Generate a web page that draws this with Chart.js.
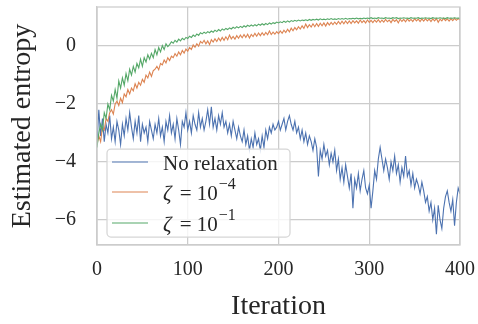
<!DOCTYPE html>
<html>
<head>
<meta charset="utf-8">
<script src="https://cdn.jsdelivr.net/npm/chart.js@4.4.0/dist/chart.umd.min.js"></script>
<style>
  html, body { margin: 0; padding: 0; background: #fff; }
  #wrap { width: 478px; height: 324px; }
</style>
</head>
<body>
<div id="wrap"><canvas id="entropyChart" width="478" height="324"></canvas></div>
<script>
// Iterations (every second step)
const iterations = [
  0,2,4,6,8,10,12,14,16,18,20,22,24,26,28,30,32,34,36,38,
  40,42,44,46,48,50,52,54,56,58,60,62,64,66,68,70,72,74,76,78,
  80,82,84,86,88,90,92,94,96,98,100,102,104,106,108,110,112,114,116,118,
  120,122,124,126,128,130,132,134,136,138,140,142,144,146,148,150,152,154,156,158,
  160,162,164,166,168,170,172,174,176,178,180,182,184,186,188,190,192,194,196,198,
  200,202,204,206,208,210,212,214,216,218,220,222,224,226,228,230,232,234,236,238,
  240,242,244,246,248,250,252,254,256,258,260,262,264,266,268,270,272,274,276,278,
  280,282,284,286,288,290,292,294,296,298,300,302,304,306,308,310,312,314,316,318,
  320,322,324,326,328,330,332,334,336,338,340,342,344,346,348,350,352,354,356,358,
  360,362,364,366,368,370,372,374,376,378,380,382,384,386,388,390,392,394,396,398,
  400
];

const noRelaxation = [
  -3.4,-2.2,-3.1,-2.5,-3.3,-2.7,-3.0,-2.4,-3.2,-2.8,
  -3.3,-2.6,-2.9,-3.4,-2.7,-3.1,-2.5,-2.9,-2.3,-2.8,
  -3.2,-2.6,-3.0,-2.4,-3.3,-2.7,-3.0,-2.8,-3.3,-2.6,
  -2.9,-3.2,-2.7,-3.0,-2.5,-3.1,-2.8,-3.3,-2.6,-2.9,
  -2.4,-3.0,-2.7,-3.2,-2.5,-2.9,-3.4,-2.6,-2.8,-2.3,
  -2.9,-2.6,-3.0,-2.4,-2.7,-2.9,-2.3,-2.8,-2.5,-2.9,
  -2.6,-2.2,-2.7,-2.1,-2.8,-2.5,-2.9,-2.4,-2.7,-2.3,
  -2.8,-2.6,-3.0,-2.7,-3.1,-2.6,-2.9,-3.2,-2.8,-3.1,
  -3.3,-2.9,-3.4,-3.1,-3.6,-3.2,-3.5,-3.0,-3.4,-3.2,
  -3.6,-3.1,-3.5,-2.9,-3.2,-2.8,-3.0,-2.7,-2.9,-2.8,
  -2.6,-2.9,-2.7,-2.5,-2.9,-2.6,-2.4,-2.7,-2.9,-2.6,
  -3.0,-2.8,-3.2,-2.9,-3.3,-3.0,-3.4,-3.1,-3.3,-3.6,
  -3.2,-3.5,-4.5,-3.6,-3.9,-3.4,-3.8,-3.6,-4.1,-3.7,
  -4.0,-3.6,-4.3,-3.9,-4.6,-4.2,-4.7,-4.1,-4.5,-4.9,
  -4.4,-5.6,-4.6,-4.9,-4.4,-5.0,-4.6,-4.3,-4.9,-5.1,
  -4.8,-5.6,-5.0,-4.3,-4.6,-3.9,-3.5,-3.9,-4.3,-3.9,
  -4.2,-4.6,-4.0,-4.3,-3.8,-4.4,-4.1,-4.7,-4.2,-4.5,
  -3.8,-4.5,-4.3,-4.8,-4.4,-4.9,-4.6,-4.8,-5.1,-4.7,
  -5.0,-5.4,-5.2,-5.7,-5.4,-6.0,-5.6,-6.5,-5.5,-6.0,
  -6.3,-5.6,-5.2,-5.0,-5.4,-5.7,-5.3,-6.2,-5.4,-4.9,
  -5.1
];

const zetaSmall = [
  -3.4,-3.1,-3.3,-2.8,-2.9,-2.5,-2.6,-2.3,-2.2,-2.35,
  -2.0,-1.9,-2.05,-1.8,-1.95,-1.65,-1.75,-1.5,-1.65,-1.45,
  -1.55,-1.3,-1.45,-1.25,-1.35,-1.15,-1.25,-1.0,-1.1,-0.9,
  -1.05,-0.85,-0.8,-0.7,-0.82,-0.6,-0.65,-0.48,-0.58,-0.4,
  -0.5,-0.35,-0.4,-0.26,-0.35,-0.2,-0.3,-0.15,-0.24,-0.1,
  -0.18,-0.05,-0.12,0.04,-0.04,0.08,0.0,0.16,0.1,0.2,
  0.08,0.18,0.05,0.22,0.14,0.25,0.16,0.28,0.18,0.3,
  0.2,0.32,0.22,0.38,0.25,0.33,0.24,0.36,0.27,0.38,
  0.29,0.4,0.3,0.41,0.28,0.4,0.33,0.44,0.34,0.45,
  0.36,0.46,0.37,0.47,0.39,0.52,0.4,0.48,0.41,0.5,
  0.43,0.52,0.44,0.55,0.47,0.58,0.49,0.62,0.53,0.64,
  0.56,0.67,0.59,0.7,0.61,0.76,0.64,0.74,0.66,0.77,
  0.67,0.78,0.68,0.79,0.7,0.8,0.69,0.81,0.73,0.82,
  0.74,0.83,0.75,0.85,0.76,0.86,0.77,0.87,0.78,0.87,
  0.78,0.88,0.8,0.87,0.79,0.9,0.81,0.88,0.8,0.9,
  0.82,0.89,0.81,0.9,0.83,0.91,0.82,0.9,0.83,0.92,
  0.84,0.9,0.81,0.92,0.85,0.91,0.8,0.93,0.85,0.92,
  0.84,0.94,0.86,0.92,0.85,0.95,0.87,0.93,0.85,0.94,
  0.86,0.95,0.87,0.93,0.85,0.94,0.87,0.95,0.82,0.93,
  0.87,0.96,0.88,0.94,0.86,0.95,0.88,0.96,0.89,0.95,
  0.91
];

const zetaLarge = [
  -3.5,-3.0,-2.7,-2.9,-2.3,-2.5,-2.0,-2.2,-1.7,-1.9,
  -1.5,-1.8,-1.2,-1.45,-1.1,-1.35,-0.95,-1.2,-0.8,-1.0,
  -0.7,-0.9,-0.6,-0.75,-0.45,-0.7,-0.4,-0.55,-0.3,-0.45,
  -0.25,-0.4,-0.12,-0.3,-0.05,-0.2,0.02,-0.12,0.08,-0.02,
  0.05,0.15,0.1,0.2,0.14,0.24,0.18,0.27,0.22,0.3,
  0.26,0.34,0.3,0.38,0.33,0.42,0.37,0.46,0.42,0.48,
  0.44,0.5,0.46,0.52,0.48,0.55,0.5,0.57,0.52,0.59,
  0.55,0.61,0.57,0.63,0.59,0.65,0.61,0.67,0.63,0.68,
  0.64,0.7,0.66,0.72,0.68,0.73,0.69,0.74,0.7,0.76,
  0.72,0.77,0.73,0.78,0.74,0.8,0.76,0.81,0.78,0.83,
  0.8,0.84,0.81,0.86,0.82,0.87,0.83,0.88,0.85,0.89,
  0.86,0.9,0.87,0.9,0.88,0.91,0.88,0.92,0.89,0.92,
  0.9,0.93,0.9,0.94,0.91,0.93,0.91,0.94,0.92,0.95,
  0.92,0.94,0.92,0.95,0.93,0.95,0.93,0.96,0.93,0.95,
  0.94,0.96,0.94,0.97,0.94,0.96,0.94,0.97,0.95,0.97,
  0.95,0.98,0.95,0.97,0.95,0.98,0.96,0.97,0.95,0.98,
  0.96,0.97,0.95,0.98,0.96,0.98,0.95,0.97,0.96,0.98,
  0.96,0.97,0.95,0.98,0.96,0.97,0.96,0.98,0.95,0.97,
  0.96,0.98,0.96,0.97,0.95,0.98,0.96,0.97,0.96,0.98,
  0.96,0.97,0.95,0.98,0.96,0.97,0.96,0.98,0.96,0.97,
  0.96
];

// Legend entries: [plain text, exponent]
const seriesNames = [['No relaxation', ''], ['\u03b6 = 10', '\u22124'], ['\u03b6 = 10', '\u22121']];
const seriesColors = ['#4c72b0', '#dd8452', '#55a868'];

const xTicks = [0, 100, 200, 300, 400];
const yTicks = [-6, -4, -2, 0];

const serif = "'Liberation Serif', 'DejaVu Serif', serif";
const gridColor = '#cccccc';
const textColor = '#262626';

function toPoints(values) {
  return iterations.map((x, i) => ({ x: x, y: values[i] }));
}

// top and right spines
const frame = {
  id: 'frame',
  afterDraw(chart) {
    const { ctx, chartArea: a } = chart;
    ctx.save();
    ctx.strokeStyle = gridColor;
    ctx.lineWidth = 1.25;
    ctx.strokeRect(a.left, a.top, a.right - a.left, a.bottom - a.top);
    ctx.restore();
  }
};

// matplotlib style legend inside the axes, lower left
const legendBox = {
  id: 'legendBox',
  afterDatasetsDraw(chart) {
    const { ctx, chartArea: a } = chart;
    const x = a.left + 10, y = a.top + 142, w = 183, h = 88;
    ctx.save();
    ctx.beginPath();
    ctx.roundRect(x, y, w, h, 4);
    ctx.fillStyle = 'rgba(255,255,255,0.8)';
    ctx.fill();
    ctx.strokeStyle = '#d6d6d6';
    ctx.lineWidth = 1.25;
    ctx.stroke();

    const rows = [y + 13, y + 43, y + 74];
    seriesNames.forEach((name, i) => {
      const ly = rows[i];
      ctx.strokeStyle = seriesColors[i];
      ctx.lineWidth = 1.2;
      ctx.beginPath();
      ctx.moveTo(x + 5, ly);
      ctx.lineTo(x + 41, ly);
      ctx.stroke();

      ctx.fillStyle = textColor;
      ctx.textBaseline = 'middle';
      ctx.textAlign = 'left';
      let tx = x + 56;
      let text = name[0];
      if (text.charAt(0) === '\u03b6') {
        ctx.font = 'italic 21px ' + serif;
        ctx.fillText('\u03b6', tx, ly + 2);
        tx += ctx.measureText('\u03b6').width + 3;
        text = text.slice(1);
      }
      ctx.font = '21px ' + serif;
      ctx.fillText(text, tx, ly + 2);
      tx += ctx.measureText(text).width + 1;
      if (name[1]) {
        ctx.font = '16px ' + serif;
        ctx.fillText(name[1], tx, ly - 7);
      }
    });
    ctx.restore();
  }
};

new Chart(document.getElementById('entropyChart'), {
  type: 'line',
  data: {
    datasets: [
      { label: seriesNames[0][0], data: toPoints(noRelaxation), borderColor: seriesColors[0], order: 3 },
      { label: seriesNames[1][0], data: toPoints(zetaSmall), borderColor: seriesColors[1], order: 2 },
      { label: seriesNames[2][0], data: toPoints(zetaLarge), borderColor: seriesColors[2], order: 1 }
    ]
  },
  options: {
    responsive: false,
    animation: false,
    layout: { padding: { top: 7, right: 18, left: 0, bottom: 0 } },
    elements: {
      line: { borderWidth: 1.1, tension: 0 },
      point: { radius: 0 }
    },
    plugins: {
      legend: { display: false },
      tooltip: { enabled: false }
    },
    scales: {
      x: {
        type: 'linear',
        min: 0,
        max: 400,
        afterBuildTicks: (scale) => { scale.ticks = xTicks.map(v => ({ value: v })); },
        afterFit: (scale) => {
          scale.height = 79;
          scale.paddingLeft = 0;
          scale.paddingRight = 0;
        },
        grid: { color: gridColor, lineWidth: 1.25, drawTicks: false },
        border: { color: gridColor, width: 1.25 },
        ticks: {
          color: textColor,
          padding: 13,
          maxRotation: 0,
          font: { family: serif, size: 20 }
        },
        title: {
          display: true,
          text: 'Iteration',
          color: textColor,
          padding: { top: 0, bottom: 1 },
          font: { family: serif, size: 28 }
        }
      },
      y: {
        min: -6.87,
        max: 1.35,
        afterBuildTicks: (scale) => { scale.ticks = yTicks.map(v => ({ value: v })); },
        afterFit: (scale) => {
          scale.width = 97;
          scale.paddingTop = 0;
          scale.paddingBottom = 0;
        },
        grid: { color: gridColor, lineWidth: 1.25, drawTicks: false },
        border: { color: gridColor, width: 1.25 },
        ticks: {
          color: textColor,
          padding: 21,
          font: { family: serif, size: 20 },
          callback: (v) => (v < 0 ? '\u2212' + Math.abs(v) : String(v))
        },
        title: {
          display: true,
          text: 'Estimated entropy',
          color: textColor,
          padding: { top: 6, bottom: 0 },
          font: { family: serif, size: 28 }
        }
      }
    }
  },
  plugins: [legendBox, frame]
});
</script>
</body>
</html>
